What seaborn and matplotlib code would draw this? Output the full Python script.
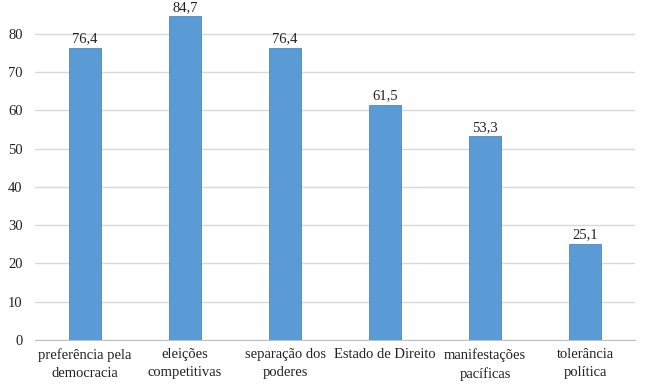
import pandas as pd
import matplotlib.pyplot as plt
import seaborn as sns

# Données
categorias = ["preferência pela\ndemocracia", "eleições\ncompetitivas", "separação dos\npoderes",
              "Estado de Direito", "manifestações\npacíficas", "tolerância\npolítica"]
valores = [76.4, 84.7, 76.4, 61.5, 53.3, 25.1]
rotulos = ["76,4", "84,7", "76,4", "61,5", "53,3", "25,1"]

df = pd.DataFrame({"categoria": categorias, "valor": valores})

sns.set_style("white")
plt.rcParams['font.family'] = ['Liberation Serif', 'DejaVu Serif']

fig = plt.figure(figsize=(6.5, 3.88), dpi=100)
ax = fig.add_axes([0.054, 0.124, 0.923, 0.876])

sns.barplot(data=df, x="categoria", y="valor", color="#5B9BD5", saturation=1, width=0.32,
            edgecolor="#4A8AC4", linewidth=0.6, ax=ax, zorder=3)

for i, r in enumerate(rotulos):
    ax.text(i, valores[i] + 0.6, r, ha="center", va="bottom", fontsize=10.5, color="#222222")

ax.set_ylim(0, 88.9)
ax.set_xlim(-0.5, 5.5)
ax.set_yticks(range(0, 90, 10))
ax.yaxis.grid(True, color="#D9D9D9", linewidth=1, zorder=0)
ax.set_xlabel("")
ax.set_ylabel("")
for s in ["top", "right", "left"]:
    ax.spines[s].set_visible(False)
ax.spines["bottom"].set_color("#BFBFBF")
ax.tick_params(axis="both", length=0, labelsize=10.5, colors="#222222")
ax.tick_params(axis="y", pad=9)
ax.tick_params(axis="x", pad=6)
for t in ax.get_xticklabels():
    t.set_linespacing(1.45)

fig.savefig("out.png", dpi=100)
